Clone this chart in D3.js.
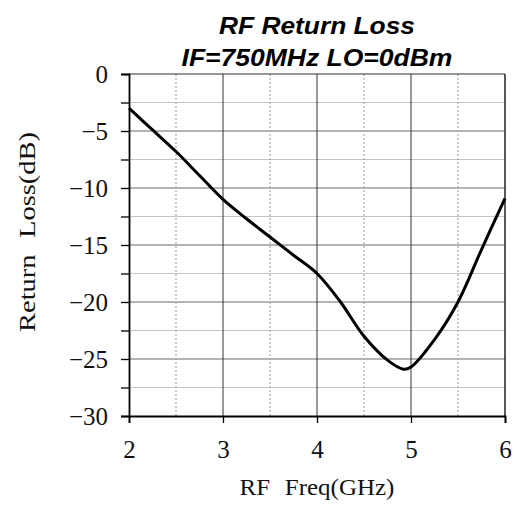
<!DOCTYPE html>
<html>
<head>
<meta charset="utf-8">
<script src="https://cdn.jsdelivr.net/npm/d3@7"></script>
<style>
  body { margin: 0; background: #fff; }
</style>
</head>
<body>
<div id="chart"></div>
<script>
// values
var freq = [2, 2.25, 2.5, 2.75, 3, 3.25, 3.5, 3.75, 4, 4.25, 4.5, 4.75, 4.92, 5, 5.25, 5.5, 5.75, 6];
var loss = [-3.0, -4.9, -6.8, -8.9, -11.0, -12.7, -14.3, -15.9, -17.5, -20.0, -23.0, -25.1, -25.9, -25.7, -23.3, -20.0, -15.4, -10.9];
var xTicks = [2, 3, 4, 5, 6];
var yTicks = [0, -5, -10, -15, -20, -25, -30];
var yMinor = [-2.5, -7.5, -12.5, -17.5, -22.5, -27.5];
var xMinor = [2.5, 3.5, 4.5, 5.5];
var titleLines = ["RF Return Loss", "IF=750MHz LO=0dBm"];

var margin = {top: 74, right: 9, bottom: 89, left: 129},
    width = 514 - margin.left - margin.right,
    height = 505 - margin.top - margin.bottom;

var serif = "'Liberation Serif', 'Times New Roman', serif";

var svg = d3.select("#chart")
  .append("svg")
    .attr("width", 514)
    .attr("height", 505)
  .append("g")
    .attr("transform", "translate(" + margin.left + "," + margin.top + ")");

var x = d3.scaleLinear().domain([2, 6]).range([0, width]);
var y = d3.scaleLinear().domain([-30, 0]).range([height, 0]);

// horizontal grid
svg.selectAll("line.hminor")
  .data(yMinor).enter().append("line")
    .attr("x1", 0).attr("x2", width)
    .attr("y1", function(d) { return y(d); })
    .attr("y2", function(d) { return y(d); })
    .attr("stroke", "#c4c4c4").attr("stroke-width", 1);
svg.selectAll("line.hmajor")
  .data(yTicks.slice(1, -1)).enter().append("line")
    .attr("x1", 0).attr("x2", width)
    .attr("y1", function(d) { return y(d); })
    .attr("y2", function(d) { return y(d); })
    .attr("stroke", "#6a6a6a").attr("stroke-width", 1.2);

// vertical grid
svg.selectAll("line.vminor")
  .data(xMinor).enter().append("line")
    .attr("y1", 0).attr("y2", height)
    .attr("x1", function(d) { return x(d); })
    .attr("x2", function(d) { return x(d); })
    .attr("stroke", "#aaa").attr("stroke-width", 1.2)
    .attr("stroke-dasharray", "2,2");
svg.selectAll("line.vmajor")
  .data(xTicks.slice(1, -1)).enter().append("line")
    .attr("y1", 0).attr("y2", height)
    .attr("x1", function(d) { return x(d); })
    .attr("x2", function(d) { return x(d); })
    .attr("stroke", "#333").attr("stroke-width", 1);

// top and right frame
svg.append("line").attr("x1", 0).attr("x2", width).attr("y1", 0).attr("y2", 0)
  .attr("stroke", "#333").attr("stroke-width", 1.2);
svg.append("line").attr("x1", width).attr("x2", width).attr("y1", 0).attr("y2", height)
  .attr("stroke", "#222").attr("stroke-width", 1.5);

// axes
svg.append("g")
  .attr("transform", "translate(0," + height + ")")
  .call(d3.axisBottom(x).tickValues(xTicks).tickSize(7).tickPadding(17).tickFormat(d3.format("d")));
var yAxis = svg.append("g")
  .call(d3.axisLeft(y).tickValues(yTicks).tickSize(8).tickPadding(13).tickFormat(function(d) { return d === 0 ? "0" : "\u2212" + Math.abs(d); }));
svg.append("g")
  .call(d3.axisLeft(y).tickValues(yMinor).tickSize(8).tickFormat(""))
  .select(".domain").remove();

svg.selectAll(".domain").attr("stroke", "#000").attr("stroke-width", 1.8);
svg.selectAll(".tick line").attr("stroke", "#000").attr("stroke-width", 1.3);
svg.selectAll(".tick text")
  .style("font-family", serif)
  .style("font-size", "25px")
  .attr("fill", "#111");
yAxis.selectAll(".tick text").attr("dy", "0.34em");

// curve
var line = d3.line()
  .x(function(d, i) { return x(freq[i]); })
  .y(function(d) { return y(d); })
  .curve(d3.curveCatmullRom.alpha(0.5));
svg.append("path")
  .datum(loss)
  .attr("fill", "none")
  .attr("stroke", "#000")
  .attr("stroke-width", 3)
  .attr("stroke-linejoin", "round")
  .attr("d", line);

// stretched text helper: centred at (cx, cy), widened to the target width
function label(txt, cx, cy, target, rot, family, size, bold) {
  var t = svg.append("text")
    .attr("text-anchor", "middle")
    .style("font-family", family)
    .style("font-size", size + "px")
    .attr("fill", "#111")
    .text(txt);
  if (bold) t.style("font-weight", "bold").style("font-style", "italic").attr("fill", "#000");
  else t.style("word-spacing", "8px");
  var sx = target / t.node().getComputedTextLength();
  t.attr("transform", "translate(" + cx + "," + cy + ")" + (rot ? "rotate(" + rot + ")" : "") + "scale(" + sx + ",1)");
  return t;
}

// title
label(titleLines[0], width / 2, -40, 196, 0, "'Liberation Sans', Arial, sans-serif", 23, true);
label(titleLines[1], width / 2, -8, 271, 0, "'Liberation Sans', Arial, sans-serif", 23, true);

// axis labels
label("RF Freq(GHz)", width / 2, height + 79, 155, 0, serif, 24, false);
label("Return Loss(dB)", 35 - margin.left, 232 - margin.top, 200, -90, serif, 24, false);
</script>
</body>
</html>
